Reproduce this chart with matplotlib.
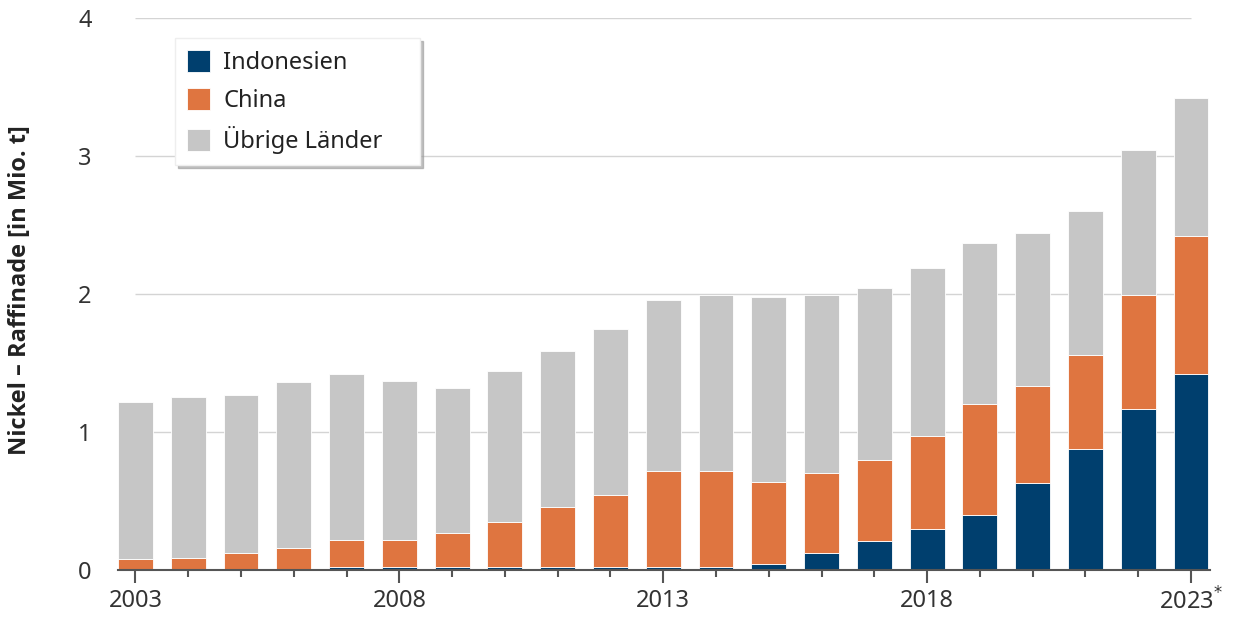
import numpy as np
import matplotlib.pyplot as plt
from matplotlib.ticker import MultipleLocator

plt.rcParams['font.family'] = ['Noto Sans', 'DejaVu Sans']

years = np.arange(2003, 2024)
# cumulative tops (Mio. t)
indonesia = np.array([0.01, 0.01, 0.01, 0.01, 0.02, 0.02, 0.02, 0.02, 0.02, 0.02, 0.02,
                      0.02, 0.04, 0.12, 0.21, 0.30, 0.40, 0.63, 0.88, 1.17, 1.42])
china_top = np.array([0.08, 0.09, 0.12, 0.16, 0.22, 0.22, 0.27, 0.35, 0.46, 0.54, 0.72,
                      0.72, 0.64, 0.70, 0.80, 0.97, 1.20, 1.33, 1.56, 1.99, 2.42])
total = np.array([1.22, 1.25, 1.27, 1.36, 1.42, 1.37, 1.32, 1.44, 1.59, 1.75, 1.96,
                  1.99, 1.98, 1.99, 2.04, 2.19, 2.37, 2.44, 2.60, 3.04, 3.42])
china = china_top - indonesia
others = total - china_top

labels = ["Indonesien", "China", "Übrige Länder"]
colors = ["#003f6e", "#df7540", "#c6c6c6"]

fig = plt.figure(figsize=(12.38, 6.21), dpi=100)
ax = fig.add_axes([118 / 1238, 1 - 570 / 621, 1092 / 1238, 552 / 621])

w = 0.66
ax.bar(years, indonesia, w, color=colors[0], edgecolor="white", linewidth=0.6, label=labels[0], zorder=3)
ax.bar(years, china, w, bottom=indonesia, color=colors[1], edgecolor="white", linewidth=0.6, label=labels[1], zorder=3)
ax.bar(years, others, w, bottom=china_top, color=colors[2], edgecolor="white", linewidth=0.6, label=labels[2], zorder=3)

# gridlines only between first and last year
ax.hlines([1, 2, 3, 4], years[0], years[-1], color="#d4d4d4", linewidth=1, zorder=1)

ax.set_xlim(2002.67, 2023.36)
ax.set_ylim(0, 4)
ax.set_yticks([0, 1, 2, 3, 4])
ax.tick_params(axis="y", length=0, pad=19, labelsize=17, labelcolor="#333333")

ax.set_xticks([2003, 2008, 2013, 2018, 2023])
ax.set_xticklabels(["2003", "2008", "2013", "2018", "2023$^{*}$"])
ax.xaxis.set_minor_locator(MultipleLocator(1))
ax.tick_params(axis="x", which="major", length=9.5, width=1.5, color="#555555", pad=4,
               labelsize=17, labelcolor="#333333")
ax.tick_params(axis="x", which="minor", length=5, width=1.5, color="#555555")

for s in ["top", "right", "left"]:
    ax.spines[s].set_visible(False)
ax.spines["bottom"].set_color("#555555")
ax.spines["bottom"].set_linewidth(1.5)
ax.spines["bottom"].set_zorder(4)

fig.text(20 / 1238, 1 - 290 / 621, "Nickel – Raffinade [in Mio. t]", rotation=90,
         ha="center", va="center", fontsize=17, fontweight="bold", color="#222222",
         family=["Open Sans", "Noto Sans", "DejaVu Sans"])

leg = ax.legend(loc="upper left", bbox_to_anchor=(0.052, 0.0, 0.2244, 0.964), mode="expand",
                borderaxespad=0, fontsize=17,
                handlelength=1.0, handleheight=1.05, handletextpad=0.55, labelspacing=0.55,
                borderpad=0.5, fancybox=False, shadow={"color": "0.6", "alpha": 0.6}, framealpha=1)
leg.get_frame().set_edgecolor("#eeeeee")
leg.set_zorder(5)
for t in leg.get_texts():
    t.set_color("#222222")

fig.savefig("out.png", dpi=100)
